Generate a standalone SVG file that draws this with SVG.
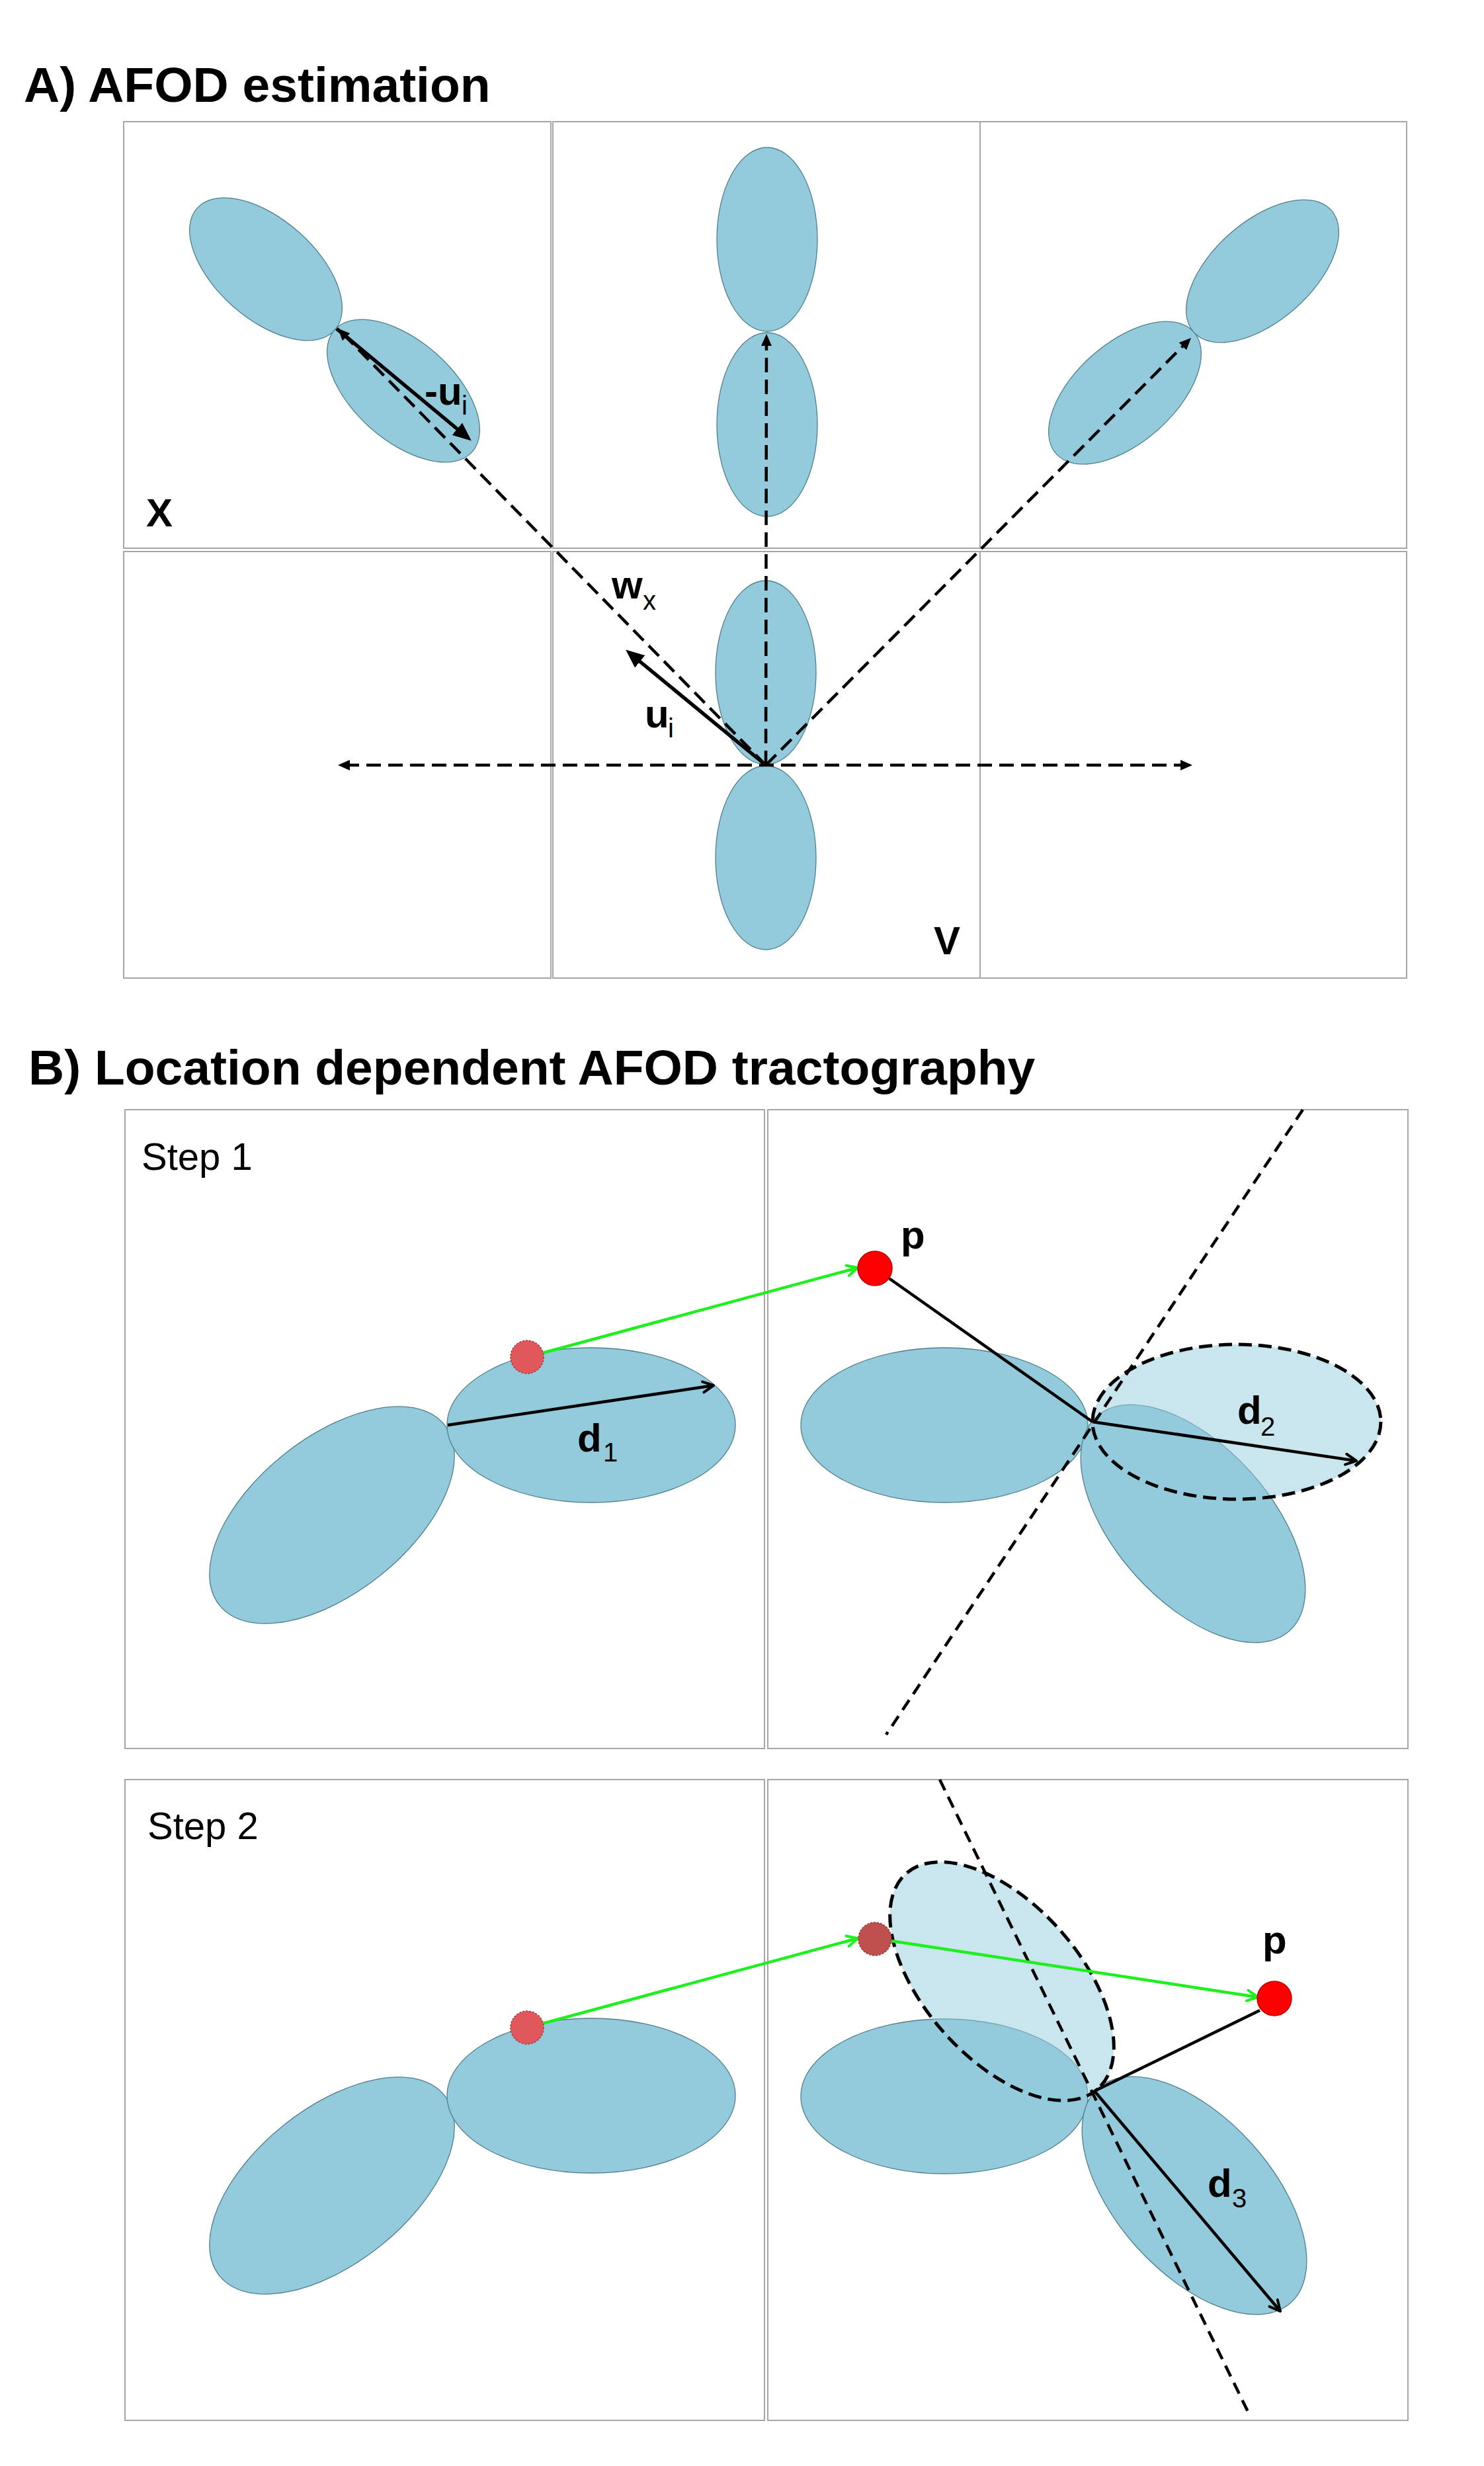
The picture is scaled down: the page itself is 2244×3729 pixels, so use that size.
<svg xmlns="http://www.w3.org/2000/svg" width="2244" height="3729" viewBox="0 0 2244 3729">
<style>
.cell{fill:none;stroke:#a6a6a6;stroke-width:2}
.lobe{fill:#94cbdc;stroke:#4f7f8c;stroke-width:1.3}
.ghost{fill:#94cbdc;fill-opacity:0.5;stroke:#000;stroke-width:5;stroke-dasharray:20 10}
.dash{fill:none;stroke:#000;stroke-width:4.5;stroke-dasharray:22 11}
.dashthin{fill:none;stroke:#000;stroke-width:4.5;stroke-dasharray:18 11}
.solid{fill:none;stroke:#000;stroke-width:5.5}
.thin{fill:none;stroke:#000;stroke-width:4.5}
.green{fill:none;stroke:#1ef01e;stroke-width:4.5}
.title{font-family:"Liberation Sans",Arial,sans-serif;font-weight:bold;font-size:75px;fill:#000}
.lab{font-family:"Liberation Sans",Arial,sans-serif;font-weight:bold;font-size:60px;fill:#000}
.sub{font-family:"Liberation Sans",Arial,sans-serif;font-weight:normal;font-size:40px}
.step{font-family:"Liberation Sans",Arial,sans-serif;font-size:58px;fill:#000}
</style>
<defs>
<marker id="tri" viewBox="0 0 18 16" refX="8" refY="8" markerWidth="18" markerHeight="16" markerUnits="userSpaceOnUse" orient="auto-start-reverse"><path d="M0,0 L18,8 L0,16 z" fill="#000"/></marker>
<marker id="big" viewBox="0 0 28 24" refX="10" refY="12" markerWidth="28" markerHeight="24" markerUnits="userSpaceOnUse" orient="auto"><path d="M0,0 L28,12 L0,24 z" fill="#000"/></marker>
<marker id="openk" viewBox="0 0 22 22" refX="19" refY="11" markerWidth="22" markerHeight="22" markerUnits="userSpaceOnUse" orient="auto"><path d="M3,3 L19,11 L3,19" fill="none" stroke="#000" stroke-width="4" stroke-linecap="round" stroke-linejoin="round"/></marker>
<marker id="openg" viewBox="0 0 22 22" refX="19" refY="11" markerWidth="22" markerHeight="22" markerUnits="userSpaceOnUse" orient="auto"><path d="M3,3 L19,11 L3,19" fill="none" stroke="#1ef01e" stroke-width="4" stroke-linecap="round" stroke-linejoin="round"/></marker>
</defs>
<rect x="0" y="0" width="2244" height="3729" fill="#ffffff"/>

<g id="titles">
<text class="title" x="36" y="154">A) AFOD estimation</text>
<text class="title" x="43" y="1640" font-size="76">B) Location dependent AFOD tractography</text>
</g>

<g id="panelA-grid">
<rect class="cell" x="187" y="184" width="646" height="645"/>
<rect class="cell" x="836" y="184" width="646" height="645"/>
<rect class="cell" x="1482" y="184" width="645" height="645"/>
<rect class="cell" x="187" y="834" width="646" height="645"/>
<rect class="cell" x="836" y="834" width="646" height="645"/>
<rect class="cell" x="1482" y="834" width="645" height="645"/>
</g>

<g id="nodeX">
<ellipse class="lobe" cx="0" cy="0" rx="139" ry="75" transform="translate(402,407) rotate(41.5)"/>
<ellipse class="lobe" cx="0" cy="0" rx="139" ry="75" transform="translate(610,591) rotate(41.5)"/>
<text class="lab" x="221" y="796">X</text>
</g>
<g id="nodeTopCenter">
<ellipse class="lobe" cx="1160" cy="362" rx="76" ry="139"/>
<ellipse class="lobe" cx="1160" cy="642" rx="76" ry="139"/>
</g>
<g id="nodeTopRight">
<ellipse class="lobe" cx="0" cy="0" rx="139" ry="75" transform="translate(1701,594) rotate(-41.5)"/>
<ellipse class="lobe" cx="0" cy="0" rx="139" ry="75" transform="translate(1909,410) rotate(-41.5)"/>
</g>
<g id="nodeV">
<ellipse class="lobe" cx="1158" cy="1017" rx="76" ry="139"/>
<ellipse class="lobe" cx="1158" cy="1297" rx="76" ry="139"/>
<text class="lab" x="1412" y="1443">V</text>
</g>

<g id="step1-grid">
<rect class="cell" x="189" y="1678" width="967" height="966"/>
<rect class="cell" x="1161" y="1678" width="968" height="966"/>
<text class="step" x="214" y="1769">Step 1</text>
</g>
<g id="step2-grid">
<rect class="cell" x="189" y="2691" width="967" height="969"/>
<rect class="cell" x="1161" y="2691" width="968" height="969"/>
<text class="step" x="223" y="2781">Step 2</text>
</g>

<g id="s1-left">
<ellipse class="lobe" cx="0" cy="0" rx="218" ry="117" transform="translate(502,2291) rotate(-38.7)"/>
<ellipse class="lobe" cx="894" cy="2155" rx="218" ry="117"/>
</g>
<g id="s1-right">
<ellipse class="lobe" cx="1428" cy="2155" rx="217" ry="117"/>
<ellipse class="lobe" cx="0" cy="0" rx="218" ry="117" transform="translate(1804,2304) rotate(48)"/>
<ellipse class="ghost" cx="1870" cy="2150" rx="218" ry="117"/>
</g>
<g id="s2-left">
<ellipse class="lobe" cx="0" cy="0" rx="218" ry="117" transform="translate(502,3305) rotate(-38.7)"/>
<ellipse class="lobe" cx="894" cy="3169" rx="218" ry="117"/>
</g>
<g id="s2-right">
<ellipse class="lobe" cx="1428" cy="3170" rx="217" ry="117"/>
<ellipse class="lobe" cx="0" cy="0" rx="218" ry="117" transform="translate(1806,3320) rotate(48)"/>
<ellipse class="ghost" cx="0" cy="0" rx="218" ry="117" transform="translate(1515,2996) rotate(48.3)"/>
</g>

<g id="connectors">
<line class="dash" x1="1158" y1="1157" x2="1159" y2="515" marker-end="url(#tri)"/>
<line class="dash" x1="1158" y1="1157" x2="1794" y2="518" marker-end="url(#tri)"/>
<line class="dash" x1="1158" y1="1157" x2="518" y2="504" marker-end="url(#tri)"/>
<line class="dash" x1="521" y1="1157" x2="1793" y2="1157" marker-start="url(#tri)" marker-end="url(#tri)"/>
<line class="solid" x1="509" y1="497" x2="699" y2="655" marker-end="url(#big)"/>
<line class="solid" x1="1158" y1="1157" x2="960" y2="994" marker-end="url(#big)"/>

<line class="thin" x1="677" y1="2155" x2="1079" y2="2095" marker-end="url(#openk)"/>
<line class="green" x1="820" y1="2046" x2="1297" y2="1917" marker-end="url(#openg)"/>
<line class="dashthin" x1="1970" y1="1678" x2="1340" y2="2623"/>
<line class="thin" x1="1340" y1="1930" x2="1652" y2="2150"/>
<line class="thin" x1="1652" y1="2150" x2="2051" y2="2209" marker-end="url(#openk)"/>

<line class="green" x1="820" y1="3060" x2="1297" y2="2931" marker-end="url(#openg)"/>
<line class="dashthin" x1="1421" y1="2691" x2="1891" y2="3655"/>
<line class="green" x1="1348" y1="2935" x2="1902" y2="3020" marker-end="url(#openg)"/>
<line class="thin" x1="1905" y1="3040" x2="1655" y2="3162"/>
<line class="thin" x1="1655" y1="3162" x2="1936" y2="3495" marker-end="url(#openk)"/>
</g>

<g id="points">
<circle cx="797" cy="2052" r="25" fill="#e0585c" stroke="#a03a3a" stroke-width="1.5" stroke-dasharray="3 2"/>
<circle cx="1323" cy="1918" r="26" fill="#ff0000" stroke="#c00000" stroke-width="1.5"/>
<circle cx="797" cy="3066" r="25" fill="#e0585c" stroke="#a03a3a" stroke-width="1.5" stroke-dasharray="3 2"/>
<circle cx="1323" cy="2932" r="25" fill="#c0504d" stroke="#8c3836" stroke-width="1.5" stroke-dasharray="3 2"/>
<circle cx="1927" cy="3022" r="26" fill="#ff0000" stroke="#c00000" stroke-width="1.5"/>
</g>

<g id="labels">
<text class="lab" x="642" y="612" font-size="58">-u<tspan class="sub" x="698" y="627" font-size="38">i</tspan></text>
<text class="lab" x="925" y="905" font-size="58">w<tspan class="sub" x="972" y="922" font-size="38">x</tspan></text>
<text class="lab" x="975" y="1100" font-size="58">u<tspan class="sub" x="1010" y="1115" font-size="38">i</tspan></text>
<text class="lab" x="873" y="2195">d<tspan class="sub" x="912" y="2210">1</tspan></text>
<text class="lab" x="1362" y="1888">p</text>
<text class="lab" x="1871" y="2153">d<tspan class="sub" x="1906" y="2171">2</tspan></text>
<text class="lab" x="1909" y="2954">p</text>
<text class="lab" x="1826" y="3322">d<tspan class="sub" x="1863" y="3338">3</tspan></text>
</g>
</svg>
